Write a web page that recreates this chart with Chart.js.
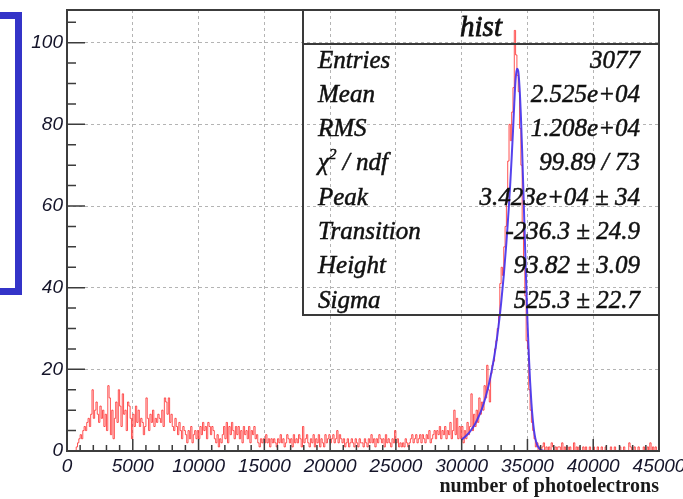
<!DOCTYPE html>
<html>
<head>
<meta charset="utf-8">
<title>hist</title>
<script src="https://cdn.jsdelivr.net/npm/chart.js@4.4.1/dist/chart.umd.min.js"></script>
<style>
  html, body { margin: 0; padding: 0; background: #fff; }
  #wrap { position: relative; width: 683px; height: 499px; overflow: hidden; background: #fff; }
  #c { position: absolute; left: 0; top: 0; }
  #sideFrame { position: absolute; left: -10px; top: 12px; width: 18px; height: 269px; border: 7px solid #3434c8; }
  #stats { position: absolute; left: 302px; top: 9px; width: 354px; height: 303px;
           border: 2px solid #3a3a3a; font-family: "Liberation Serif", "Times New Roman", serif;
           font-style: italic; color: #111; -webkit-text-stroke: 0.5px #111; }
  #stats .head { position: absolute; left: 0; right: 0; top: 0; height: 32px; border-bottom: 2px solid #3a3a3a;
                 text-align: center; font-size: 29px; line-height: 30px; -webkit-text-stroke: 0.8px #111; }
  #stats .lab { position: absolute; left: 14px; height: 34px; line-height: 34px; font-size: 25px; white-space: nowrap; }
  #stats .val { position: absolute; right: 18px; height: 34px; line-height: 34px; font-size: 25px; white-space: nowrap; text-align: right; }
  #stats sup { font-size: 15px; line-height: 0; position: relative; top: -2px; }
</style>
</head>
<body>
<div id="wrap">
  <canvas id="c" width="683" height="499"></canvas>
  <div id="sideFrame"></div>
  <div id="stats"></div>
</div>
<script>
// Histogram binning: 450 bins of 100 photoelectrons from 0 to 45000
const BIN_LOW = 0;
const BIN_WIDTH = 100;

// Bin contents, one row per 5000 photoelectrons
const counts = [
  // 0 - 5000
  0,0,0,0,0,0,0,0,1,2, 3,4,3,5,6,5,7,8,6,9, 15,8,10,12,9,7,11,8,10,6, 9,5,16,13,4,10,3,8,12,7, 15,11,6,14,9,10,5,12,11,8,
  // 5000 - 10000
  3,9,6,11,7,10,6,8,7,4, 6,13,8,5,9,7,10,6,8,7, 9,8,7,10,6,13,12,9,13,7, 9,6,5,8,6,4,7,5,3,6, 5,4,2,5,3,6,2,4,5,3,
  // 10000 - 15000
  5,3,6,4,7,5,6,3,7,6, 4,6,5,3,2,4,1,3,2,4, 6,3,7,2,6,4,7,5,3,6, 4,6,3,5,2,6,4,5,3,6, 2,5,4,6,3,4,2,1,3,2,
  // 15000 - 20000
  3,2,4,2,3,1,3,2,3,2, 1,3,2,4,2,3,1,2,4,3, 2,3,1,4,2,3,2,4,3,1, 6,2,3,4,2,1,3,2,4,1, 3,2,4,1,3,2,1,4,2,3,
  // 20000 - 25000
  4,2,3,4,2,3,5,2,4,3, 2,3,1,2,3,1,2,3,2,1, 3,2,1,3,2,2,1,3,2,1, 3,2,4,2,3,1,3,2,4,3, 2,3,1,4,2,3,2,1,3,2,
  // 25000 - 30000
  5,2,3,1,2,1,2,1,3,2, 1,2,3,4,2,3,4,2,3,4, 2,4,3,2,4,3,5,2,3,4, 5,3,5,4,6,3,5,4,6,3, 5,4,7,3,5,10,4,8,3,6,
  // 30000 - 35000
  3,6,2,5,3,7,4,6,14,5, 9,6,10,7,13,9,12,10,16,13, 21,15,12,19,21,22,25,27,30,33, 41,45,43,50,55,61,71,80,76,83, 89,103,97,92,88,79,70,56,47,38,
  // 35000 - 40000
  27,25,15,10,7,5,3,1,2,0, 1,0,1,2,0,1,0,1,0,2, 1,0,1,0,1,1,0,2,0,1, 0,1,0,1,0,0,2,0,1,0, 1,0,0,1,0,1,0,0,1,0,
  // 40000 - 45000
  0,1,0,0,1,0,0,1,0,0, 1,0,0,0,1,0,0,1,0,0, 0,1,0,0,1,0,0,0,2,1, 0,0,1,0,0,1,0,0,0,1, 0,0,1,0,2,0,1,0,1,0
];

// Fitted peak curve (fit range 30000 - 40000)
const fitX = [30000,30200,30400,30600,30800,31000,31200,31400,31600,31800,
              32000,32200,32400,32600,32800,33000,33200,33400,33500,33600,
              33700,33800,33900,34000,34100,34200,34300,34400,34500,34600,
              34700,34800,34900,35000,35100,35200,35300,35400,35500,35600,
              35700,35800,36000,36400,37000,38000,39000,40000];
const fitY = [2.8,3.3,3.9,4.6,5.5,6.5,7.8,9.2,10.9,13.0,
              15.4,18.3,21.7,25.7,30.5,36.2,43.0,51.0,55.6,60.5,
              65.9,71.8,78.2,85.2,91.0,93.6,93.0,89.0,82.2,73.2,
              62.9,52.1,41.6,32.0,23.8,17.1,11.8,7.9,5.0,3.1,
              1.9,1.1,0.3,0.0,0.0,0.0,0.0,0.0];

// Statistics box
const statTitle = 'hist';
const statLabels = ['Entries', 'Mean', 'RMS', 'χ<sup>2</sup> / ndf', 'Peak', 'Transition', 'Height', 'Sigma'];
const statValues = ['3077', '2.525e+04', '1.208e+04', '99.89 / 73', '3.423e+04 ± 34', '-236.3 ± 24.9', '93.82 ± 3.09', '525.3 ± 22.7'];

const xTitle = 'number of photoelectrons';
const X_MIN = 0, X_MAX = 45000, X_MAJOR = 5000, X_MINOR = 1000;
const Y_MIN = 0, Y_MAX = 108, Y_MAJOR = 20, Y_MINOR = 5;

// build the stats panel
(function buildStats() {
  const box = document.getElementById('stats');
  const head = document.createElement('div');
  head.className = 'head';
  head.textContent = statTitle;
  box.appendChild(head);
  statLabels.forEach((lab, i) => {
    const top = 59.5 + i * 34.3 - 17 - 11;
    const l = document.createElement('div');
    l.className = 'lab';
    l.style.top = top + 'px';
    l.innerHTML = lab;
    const v = document.createElement('div');
    v.className = 'val';
    v.style.top = top + 'px';
    v.textContent = statValues[i];
    box.appendChild(l);
    box.appendChild(v);
  });
})();

// histogram as a step outline over bin edges
const histPoints = counts.map((c, i) => ({ x: BIN_LOW + i * BIN_WIDTH, y: c }));
histPoints.push({ x: BIN_LOW + counts.length * BIN_WIDTH, y: counts[counts.length - 1] });
const fitPoints = fitX.map((x, i) => ({ x, y: fitY[i] }));

// frame and inward-pointing tick marks
const frameTicks = {
  id: 'frameTicks',
  afterDatasetsDraw(chart) {
    const { ctx, chartArea: a, scales: { x, y } } = chart;
    ctx.save();
    ctx.strokeStyle = '#3c3c3c';
    ctx.lineWidth = 1.5;
    ctx.beginPath();
    for (let v = X_MIN; v <= X_MAX; v += X_MINOR) {
      const px = x.getPixelForValue(v);
      const len = v % X_MAJOR === 0 ? 12 : 6;
      ctx.moveTo(px, a.bottom);
      ctx.lineTo(px, a.bottom - len);
    }
    for (let v = Y_MIN; v <= Y_MAX; v += Y_MINOR) {
      const py = y.getPixelForValue(v);
      const len = v % Y_MAJOR === 0 ? 18 : 9;
      ctx.moveTo(a.left, py);
      ctx.lineTo(a.left + len, py);
    }
    ctx.stroke();
    ctx.lineWidth = 2;
    ctx.strokeRect(a.left, a.top, a.right - a.left, a.bottom - a.top);
    ctx.restore();
  }
};

const tickFont = { family: '"Liberation Sans", Arial, sans-serif', style: 'italic', size: 19 };

new Chart(document.getElementById('c'), {
  type: 'line',
  data: {
    datasets: [
      {
        label: 'fit',
        data: fitPoints,
        borderColor: 'rgba(70,50,235,0.92)',
        borderWidth: 2,
        pointRadius: 0,
        fill: false,
        cubicInterpolationMode: 'monotone'
      },
      {
        label: 'hist',
        data: histPoints,
        borderColor: 'rgba(255,40,40,0.8)',
        borderWidth: 1,
        pointRadius: 0,
        fill: false,
        stepped: 'after'
      }
    ]
  },
  options: {
    responsive: false,
    animation: false,
    events: [],
    layout: { padding: { left: 0, right: 24, top: 10, bottom: 0 } },
    plugins: { legend: { display: false }, tooltip: { enabled: false }, title: { display: false } },
    scales: {
      x: {
        type: 'linear',
        min: X_MIN, max: X_MAX,
        grid: { color: '#b4b4b4', lineWidth: 1, drawTicks: false },
        border: { display: false, dash: [3, 3] },
        ticks: { stepSize: X_MAJOR, padding: 4, color: '#15152a', font: tickFont,
                 maxRotation: 0, autoSkip: false, includeBounds: false,
                 callback: v => String(v) },
        title: { display: true, text: xTitle, align: 'end', color: '#1a1a1a',
                 font: { family: '"Liberation Serif", "Times New Roman", serif', weight: 'bold', size: 20 },
                 padding: { top: 0, bottom: 0 } },
        afterFit(scale) { scale.height = 48; scale.paddingLeft = 0; scale.paddingRight = 0; }
      },
      y: {
        type: 'linear',
        min: Y_MIN, max: Y_MAX,
        grid: { color: '#b4b4b4', lineWidth: 1, drawTicks: false },
        border: { display: false, dash: [3, 3] },
        ticks: { stepSize: Y_MAJOR, padding: 4, color: '#15152a', font: tickFont, includeBounds: false },
        afterFit(scale) { scale.width = 67; scale.paddingTop = 0; scale.paddingBottom = 0; }
      }
    }
  },
  plugins: [frameTicks]
});
</script>
</body>
</html>
